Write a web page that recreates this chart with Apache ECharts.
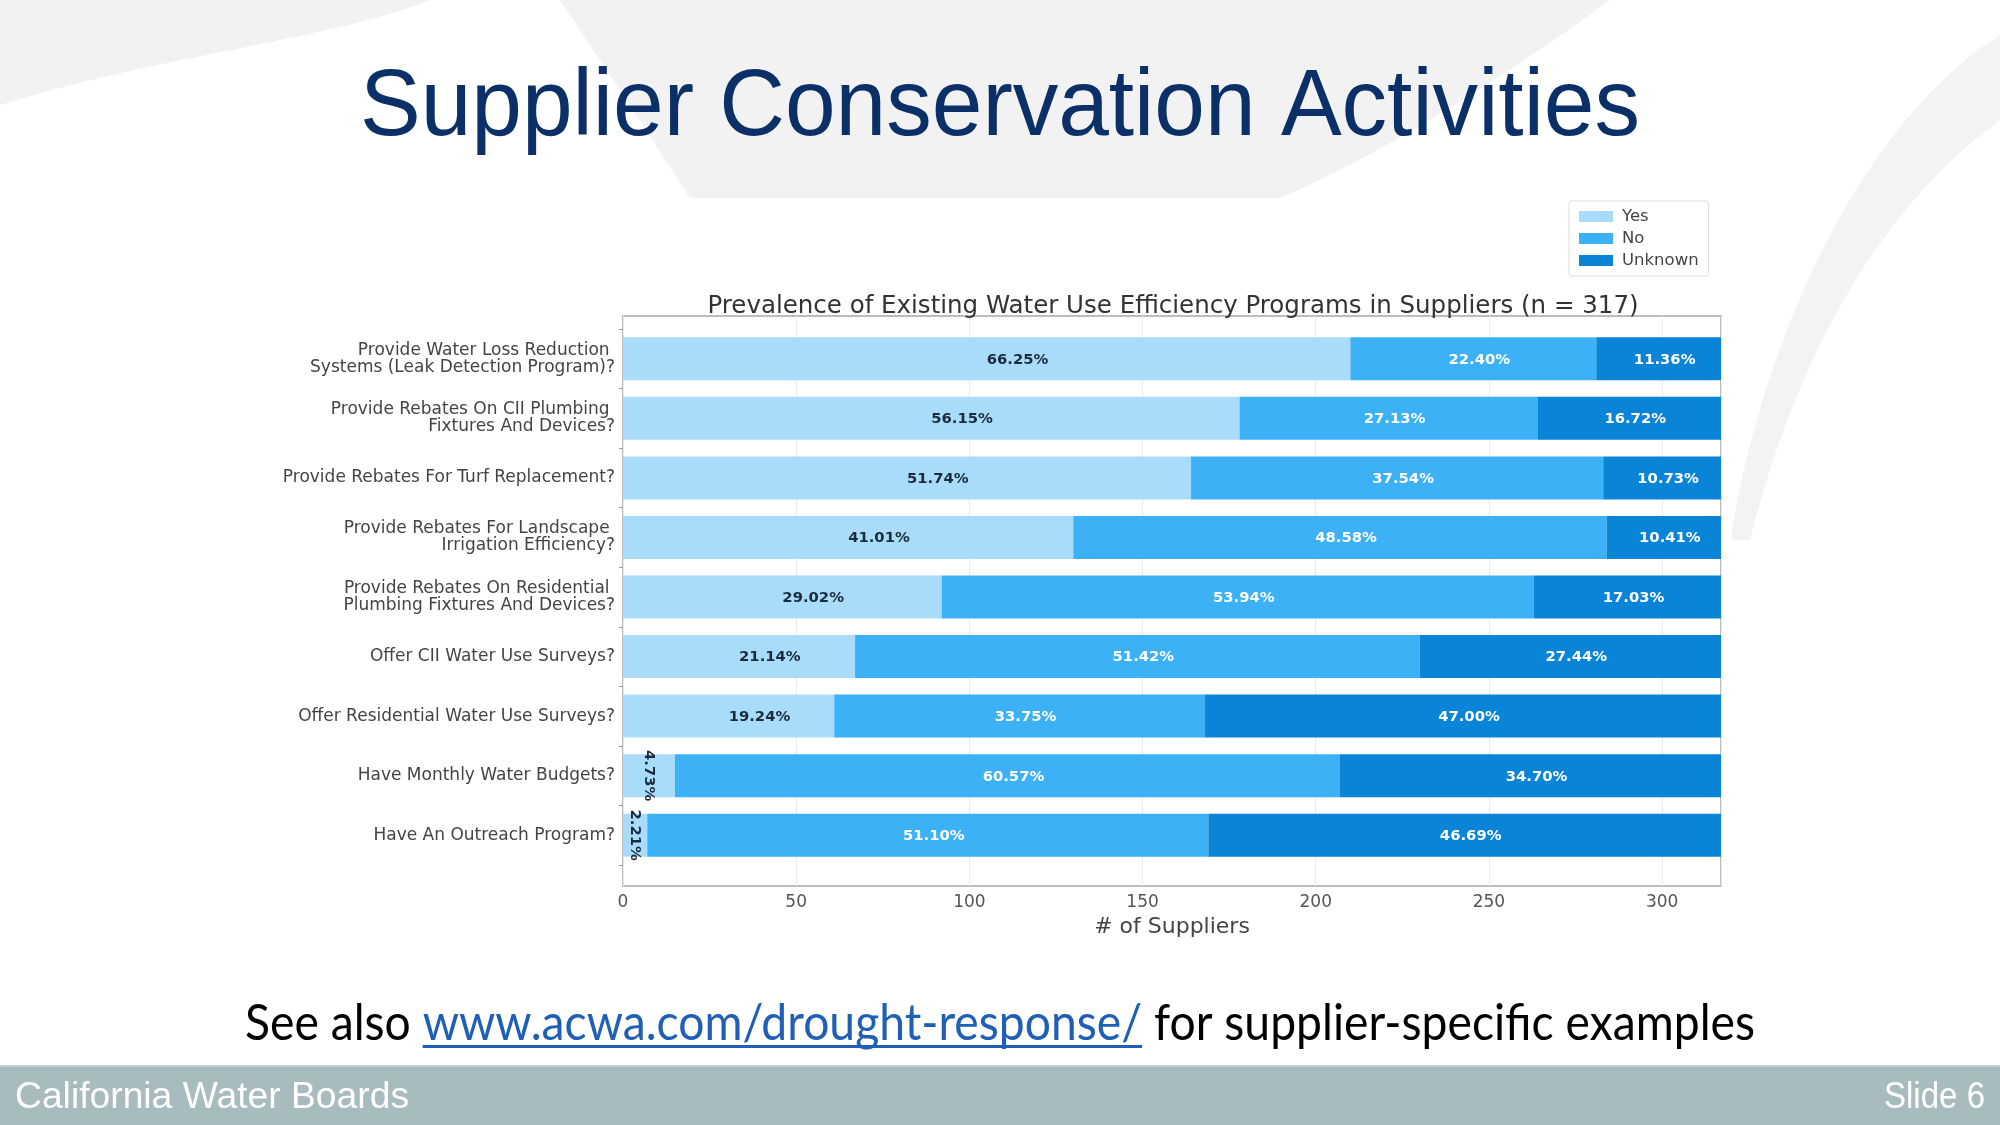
<!DOCTYPE html>
<html>
<head>
<meta charset="utf-8">
<title>Supplier Conservation Activities</title>
<script src="https://cdn.jsdelivr.net/npm/echarts@6/dist/echarts.min.js"></script>
<style>
  html, body { margin: 0; padding: 0; background: #fff; }
  #main { width: 2000px; height: 1125px; }
</style>
</head>
<body>
<div id="main"></div>
<script>
// values (n = 317 suppliers)
const TOTAL = 317;
const categories = [
  "Provide Water Loss Reduction \nSystems (Leak Detection Program)?",
  "Provide Rebates On CII Plumbing \nFixtures And Devices?",
  "Provide Rebates For Turf Replacement?",
  "Provide Rebates For Landscape \nIrrigation Efficiency?",
  "Provide Rebates On Residential \nPlumbing Fixtures And Devices?",
  "Offer CII Water Use Surveys?",
  "Offer Residential Water Use Surveys?",
  "Have Monthly Water Budgets?",
  "Have An Outreach Program?"
];
const yesCounts = [210, 178, 164, 130, 92, 67, 61, 15, 7];
const noCounts = [71, 86, 119, 154, 171, 163, 107, 192, 162];
const unknownCounts = [36, 53, 34, 33, 54, 87, 149, 110, 148];
const xTicks = [0, 50, 100, 150, 200, 250, 300];

const chart = echarts.init(document.getElementById("main"));

// measure text so slide text can be squeezed to the reference widths
const ctx = document.createElement("canvas").getContext("2d");
function measure(str, font) {
  ctx.font = font;
  return ctx.measureText(str).width;
}

// sample a cubic curve into polygon points (for the template swooshes)
function curve(p0, c1, c2, p1) {
  const pts = [];
  for (let i = 0; i <= 20; i++) {
    const t = i / 20, u = 1 - t;
    pts.push([
      u * u * u * p0[0] + 3 * u * u * t * c1[0] + 3 * u * t * t * c2[0] + t * t * t * p1[0],
      u * u * u * p0[1] + 3 * u * u * t * c1[1] + 3 * u * t * t * c2[1] + t * t * t * p1[1]
    ]);
  }
  return pts;
}

const swooshLeft = [[0, 0], [430, 0]].concat(curve([430, 0], [330, 40], [160, 55], [0, 105]));
const swooshMid = [[560, 0], [1610, 0]]
  .concat(curve([1610, 0], [1500, 80], [1390, 150], [1280, 198]))
  .concat(curve([690, 198], [640, 120], [600, 60], [560, 0]));
const swooshRight = curve([2000, 35], [1880, 110], [1770, 300], [1730, 540])
  .concat(curve([1750, 540], [1800, 340], [1890, 200], [2000, 120]));

const titleText = "Supplier Conservation Activities";
const titleFont = '94px "Liberation Sans"';
const titleScale = 1280 / measure(titleText, titleFont);

const seeA = "See also ";
const seeB = "www.acwa.com/drought-response/";
const seeC = " for supplier-specific examples";
const seeFont = '50px Lato';
const wA = measure(seeA, seeFont), wB = measure(seeB, seeFont), wC = measure(seeC, seeFont);
const seeScale = 1510 / (wA + wB + wC);
const seeX0 = 1000 - (wA + wB + wC) * seeScale / 2;
const linkX0 = seeX0 + wA * seeScale;
const linkX1 = linkX0 + wB * seeScale;

const footFont = '36px "Liberation Sans"';
const footLeft = "California Water Boards";
const footRight = "Slide 6";
const footLeftScale = 394 / measure(footLeft, footFont);
const footRightScale = 101 / measure(footRight, footFont);

function pctLabel(p) {
  return (p.value / TOTAL * 100).toFixed(2) + "%";
}

// "Yes" labels start at the middle of the segment; the thin ones are turned on end
const yesData = yesCounts.map(v => v < 20
  ? { value: v, label: { rotate: -90, align: "center", offset: [0, 0] } }
  : v);

const barLabel = (color, extra) => Object.assign({
  show: true,
  position: "inside",
  formatter: pctLabel,
  color: color,
  fontFamily: "DejaVu Sans",
  fontWeight: "bold",
  fontSize: 14.8
}, extra);

const option = {
  backgroundColor: "#ffffff",
  animation: false,
  textStyle: { fontFamily: "DejaVu Sans" },
  title: {
    text: "Prevalence of Existing Water Use Efficiency Programs in Suppliers (n = 317)",
    left: 1168,
    top: 289,
    textAlign: "center",
    textStyle: { fontFamily: "DejaVu Sans", fontSize: 24.5, fontWeight: "normal", color: "#333" }
  },
  legend: {
    left: 1569,
    top: 201,
    orient: "vertical",
    data: ["Yes", "No", "Unknown"],
    icon: "rect",
    itemWidth: 34,
    itemHeight: 11,
    itemGap: 5,
    padding: [7, 10, 7, 10],
    borderColor: "#dddddd",
    borderWidth: 1,
    borderRadius: 3,
    textStyle: { fontFamily: "DejaVu Sans", fontSize: 16.5, color: "#444", padding: [0, 0, 0, 4] }
  },
  grid: [
    { left: 623, top: 316, width: 1098, height: 570, show: true, borderColor: "#bdbdbd", borderWidth: 2 },
    { left: 623, top: 329, width: 1098, height: 536 }
  ],
  xAxis: [
    {
      gridIndex: 0, type: "value", min: 0, max: TOTAL, interval: 50,
      axisLine: { show: false }, axisTick: { show: false },
      axisLabel: {
        fontFamily: "DejaVu Sans", fontSize: 17, color: "#555", margin: 8,
        formatter: v => xTicks.indexOf(v) >= 0 ? String(v) : ""
      },
      splitLine: { show: true, lineStyle: { color: "#e9e9e9", width: 1 } },
      name: "# of Suppliers", nameLocation: "middle", nameGap: 26,
      nameTextStyle: { fontFamily: "DejaVu Sans", fontSize: 22, color: "#444" }
    },
    { gridIndex: 1, type: "value", min: 0, max: TOTAL, show: false }
  ],
  yAxis: [
    { gridIndex: 0, type: "value", show: false, min: 0, max: 1 },
    {
      gridIndex: 1, type: "category", inverse: true, data: categories,
      axisLine: { show: false },
      axisTick: { show: true, length: 4, lineStyle: { color: "#999" } },
      axisLabel: { fontFamily: "DejaVu Sans", fontSize: 17, lineHeight: 17, color: "#444", margin: 8 }
    }
  ],
  series: [
    {
      name: "Yes", type: "bar", stack: "all", xAxisIndex: 1, yAxisIndex: 1,
      barWidth: 43, itemStyle: { color: "#a8dcfa" },
      label: barLabel("#1b2b3c", { align: "left", offset: [0, 1] }), data: yesData
    },
    {
      name: "No", type: "bar", stack: "all", xAxisIndex: 1, yAxisIndex: 1,
      barWidth: 43, itemStyle: { color: "#3cb1f6" },
      label: barLabel("#ffffff", { offset: [6, 1] }), data: noCounts
    },
    {
      name: "Unknown", type: "bar", stack: "all", xAxisIndex: 1, yAxisIndex: 1,
      barWidth: 43, itemStyle: { color: "#0a84d6" },
      label: barLabel("#ffffff", { offset: [6, 1] }), data: unknownCounts
    }
  ],
  graphic: [
    // faint background swooshes of the slide template
    { type: "polygon", z: -20, shape: { points: swooshLeft }, style: { fill: "#f2f2f2" } },
    { type: "polygon", z: -20, shape: { points: swooshMid }, style: { fill: "#f2f2f2" } },
    { type: "polygon", z: -20, shape: { points: swooshRight }, style: { fill: "#f3f3f3" } },
    { type: "rect", z: -15, shape: { x: 262, y: 198, width: 1470, height: 748 }, style: { fill: "#ffffff" } },
    // slide title
    {
      type: "text", z: 10, x: 1000, y: 109, scaleX: titleScale,
      style: { text: titleText, font: titleFont, fill: "#0b3068", align: "center", verticalAlign: "middle" }
    },
    // reference line with link
    {
      type: "text", z: 10, x: seeX0, y: 1024, scaleX: seeScale,
      style: { text: seeA, font: seeFont, fill: "#000", align: "left", verticalAlign: "middle" }
    },
    {
      type: "text", z: 10, x: linkX0, y: 1024, scaleX: seeScale,
      style: { text: seeB, font: seeFont, fill: "#1f5fb5", align: "left", verticalAlign: "middle" }
    },
    {
      type: "text", z: 10, x: linkX1, y: 1024, scaleX: seeScale,
      style: { text: seeC, font: seeFont, fill: "#000", align: "left", verticalAlign: "middle" }
    },
    {
      type: "rect", z: 10, shape: { x: linkX0, y: 1045, width: linkX1 - linkX0, height: 3 },
      style: { fill: "#1f5fb5" }
    },
    // footer band
    { type: "rect", z: 5, shape: { x: 0, y: 1065, width: 2000, height: 60 }, style: { fill: "#a8bbbe" } },
    { type: "rect", z: 6, shape: { x: 0, y: 1065, width: 2000, height: 2 }, style: { fill: "#c3d1d3" } },
    {
      type: "text", z: 10, x: 15, y: 1098, scaleX: footLeftScale,
      style: { text: footLeft, font: footFont, fill: "#ffffff", align: "left", verticalAlign: "middle" }
    },
    {
      type: "text", z: 10, x: 1985, y: 1098, scaleX: footRightScale,
      style: { text: footRight, font: footFont, fill: "#ffffff", align: "right", verticalAlign: "middle" }
    }
  ]
};

chart.setOption(option);
</script>
</body>
</html>
